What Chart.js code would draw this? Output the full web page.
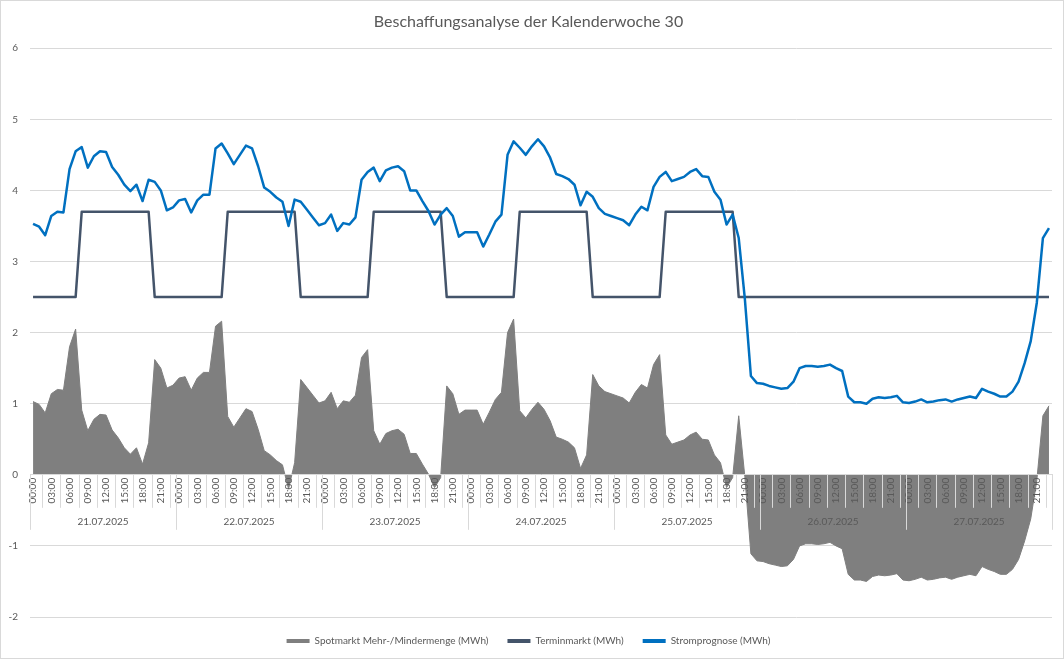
<!DOCTYPE html>
<html lang="de">
<head>
<meta charset="utf-8">
<title>Beschaffungsanalyse KW 30</title>
<script src="https://cdn.jsdelivr.net/npm/chart.js@4.4.1/dist/chart.umd.min.js"></script>
<style>
  html, body { margin: 0; padding: 0; background: #fff; }
  canvas { display: block; }
</style>
</head>
<body>
<canvas id="cvs_beschaffung" width="1064" height="659"></canvas>
<script>
// Beschaffungsanalyse KW 30 - stündliche Werte (MWh)

const tage = ["21.07.2025", "22.07.2025", "23.07.2025", "24.07.2025", "25.07.2025", "26.07.2025", "27.07.2025"];
const stunden = ["00:00", "01:00", "02:00", "03:00", "04:00", "05:00", "06:00", "07:00", "08:00", "09:00", "10:00", "11:00",
  "12:00", "13:00", "14:00", "15:00", "16:00", "17:00", "18:00", "19:00", "20:00", "21:00", "22:00", "23:00"];

const spotmarkt = [
  1.03, 0.99, 0.87, 1.14, 1.20, 1.19, 1.80, 2.05, 0.91, 0.62, 0.78, 0.85, 0.84, 0.63, 0.52, 0.38, 0.29, 0.38, 0.15, 0.45, 1.62, 1.50, 1.22, 1.26,
  1.36, 1.38, 1.19, 1.36, 1.44, 1.44, 2.09, 2.16, 0.82, 0.67, 0.80, 0.93, 0.89, 0.64, 0.34, 0.28, 0.20, 0.14, -0.20, 0.17, 1.34, 1.23, 1.12, 1.01,
  1.04, 1.16, 0.93, 1.04, 1.02, 1.12, 1.65, 1.76, 0.62, 0.43, 0.58, 0.62, 0.64, 0.57, 0.30, 0.30, 0.15, 0.01, -0.18, -0.04, 1.25, 1.14, 0.85, 0.91,
  0.91, 0.91, 0.71, 0.88, 1.06, 1.16, 2.00, 2.19, 0.90, 0.80, 0.92, 1.02, 0.92, 0.76, 0.53, 0.50, 0.46, 0.38, 0.09, 0.28, 1.41, 1.25, 1.17, 1.14,
  1.11, 1.08, 1.01, 1.16, 1.27, 1.22, 1.55, 1.69, 0.56, 0.43, 0.46, 0.49, 0.56, 0.60, 0.50, 0.49, 0.28, 0.17, -0.18, -0.04, 0.83, -0.02, -1.11, -1.21,
  -1.22, -1.25, -1.27, -1.29, -1.28, -1.19, -1.00, -0.97, -0.97, -0.98, -0.97, -0.95, -1.00, -1.04, -1.40, -1.48, -1.48, -1.50, -1.43, -1.41, -1.42, -1.41, -1.39, -1.48,
  -1.49, -1.47, -1.44, -1.48, -1.47, -1.45, -1.44, -1.47, -1.44, -1.42, -1.40, -1.42, -1.29, -1.33, -1.36, -1.40, -1.40, -1.33, -1.19, -0.93, -0.62, -0.08, 0.83, 0.97
];

const terminmarkt = [
  2.5, 2.5, 2.5, 2.5, 2.5, 2.5, 2.5, 2.5, 3.7, 3.7, 3.7, 3.7, 3.7, 3.7, 3.7, 3.7, 3.7, 3.7, 3.7, 3.7, 2.5, 2.5, 2.5, 2.5,
  2.5, 2.5, 2.5, 2.5, 2.5, 2.5, 2.5, 2.5, 3.7, 3.7, 3.7, 3.7, 3.7, 3.7, 3.7, 3.7, 3.7, 3.7, 3.7, 3.7, 2.5, 2.5, 2.5, 2.5,
  2.5, 2.5, 2.5, 2.5, 2.5, 2.5, 2.5, 2.5, 3.7, 3.7, 3.7, 3.7, 3.7, 3.7, 3.7, 3.7, 3.7, 3.7, 3.7, 3.7, 2.5, 2.5, 2.5, 2.5,
  2.5, 2.5, 2.5, 2.5, 2.5, 2.5, 2.5, 2.5, 3.7, 3.7, 3.7, 3.7, 3.7, 3.7, 3.7, 3.7, 3.7, 3.7, 3.7, 3.7, 2.5, 2.5, 2.5, 2.5,
  2.5, 2.5, 2.5, 2.5, 2.5, 2.5, 2.5, 2.5, 3.7, 3.7, 3.7, 3.7, 3.7, 3.7, 3.7, 3.7, 3.7, 3.7, 3.7, 3.7, 2.5, 2.5, 2.5, 2.5,
  2.5, 2.5, 2.5, 2.5, 2.5, 2.5, 2.5, 2.5, 2.5, 2.5, 2.5, 2.5, 2.5, 2.5, 2.5, 2.5, 2.5, 2.5, 2.5, 2.5, 2.5, 2.5, 2.5, 2.5,
  2.5, 2.5, 2.5, 2.5, 2.5, 2.5, 2.5, 2.5, 2.5, 2.5, 2.5, 2.5, 2.5, 2.5, 2.5, 2.5, 2.5, 2.5, 2.5, 2.5, 2.5, 2.5, 2.5, 2.5
];

const stromprognose = [
  3.53, 3.49, 3.37, 3.64, 3.70, 3.69, 4.30, 4.55, 4.61, 4.32, 4.48, 4.55, 4.54, 4.33, 4.22, 4.08, 3.99, 4.08, 3.85, 4.15, 4.12, 4.00, 3.72, 3.76,
  3.86, 3.88, 3.69, 3.86, 3.94, 3.94, 4.59, 4.66, 4.52, 4.37, 4.50, 4.63, 4.59, 4.34, 4.04, 3.98, 3.90, 3.84, 3.50, 3.87, 3.84, 3.73, 3.62, 3.51,
  3.54, 3.66, 3.43, 3.54, 3.52, 3.62, 4.15, 4.26, 4.32, 4.13, 4.28, 4.32, 4.34, 4.27, 4.00, 4.00, 3.85, 3.71, 3.52, 3.66, 3.75, 3.64, 3.35, 3.41,
  3.41, 3.41, 3.21, 3.38, 3.56, 3.66, 4.50, 4.69, 4.60, 4.50, 4.62, 4.72, 4.62, 4.46, 4.23, 4.20, 4.16, 4.08, 3.79, 3.98, 3.91, 3.75, 3.67, 3.64,
  3.61, 3.58, 3.51, 3.66, 3.77, 3.72, 4.05, 4.19, 4.26, 4.13, 4.16, 4.19, 4.26, 4.30, 4.20, 4.19, 3.98, 3.87, 3.52, 3.66, 3.33, 2.48, 1.39, 1.29,
  1.28, 1.25, 1.23, 1.21, 1.22, 1.31, 1.50, 1.53, 1.53, 1.52, 1.53, 1.55, 1.50, 1.46, 1.10, 1.02, 1.02, 1.00, 1.07, 1.09, 1.08, 1.09, 1.11, 1.02,
  1.01, 1.03, 1.06, 1.02, 1.03, 1.05, 1.06, 1.03, 1.06, 1.08, 1.10, 1.08, 1.21, 1.17, 1.14, 1.10, 1.10, 1.17, 1.31, 1.57, 1.88, 2.42, 3.33, 3.47
];

const yTicks = [-2, -1, 0, 1, 2, 3, 4, 5, 6];

// Kategorien: jede Stunde jedes Tages
var kategorien = [];
for (let d = 0; d < tage.length; d++) {
  for (let h = 0; h < stunden.length; h++) {
    kategorien.push(stunden[h]);
  }
}

const GRAU_TEXT = "#595959";
const GRAU_LINIE = "#d9d9d9";

Chart.defaults.font.family = "Lato, 'Open Sans', sans-serif";
Chart.defaults.color = GRAU_TEXT;

// Hintergrund, Rahmen, Teilstriche und Datumszeile unter der Achse
const achsenDeko = {
  id: "achsenDeko",
  beforeDraw(chart) {
    const ctx = chart.ctx;
    ctx.save();
    ctx.fillStyle = "#ffffff";
    ctx.fillRect(0, 0, chart.width, chart.height);
    ctx.strokeStyle = GRAU_LINIE;
    ctx.lineWidth = 1;
    ctx.strokeRect(0.5, 0.5, chart.width - 1, chart.height - 1);
    ctx.restore();
  },
  afterDraw(chart) {
    const ctx = chart.ctx;
    const x = chart.scales.x;
    const y0 = chart.scales.y.getPixelForValue(0);
    const breite = x.getPixelForValue(1) - x.getPixelForValue(0);
    const grenze = (k) => x.getPixelForValue(0) - breite / 2 + k * breite;

    ctx.save();
    ctx.strokeStyle = GRAU_LINIE;
    ctx.lineWidth = 1;
    ctx.beginPath();
    for (let d = 0; d < tage.length; d++) {
      for (let m = 0; m < 8; m++) {
        let px = Math.round(grenze(d * 24 + 3 * m + 2)) + 0.5;
        ctx.moveTo(px, y0);
        ctx.lineTo(px, y0 + 33);
      }
    }
    for (let d = 0; d <= tage.length; d++) {
      let px = Math.round(grenze(d * 24)) + 0.5;
      ctx.moveTo(px, y0);
      ctx.lineTo(px, y0 + 55);
    }
    ctx.stroke();

    ctx.fillStyle = GRAU_TEXT;
    ctx.font = "10px Lato, 'Open Sans', sans-serif";
    ctx.textAlign = "center";
    ctx.textBaseline = "middle";
    for (let d = 0; d < tage.length; d++) {
      let mitte = (grenze(d * 24) + grenze(d * 24 + 24)) / 2;
      ctx.fillText(tage[d], mitte, y0 + 47);
    }
    ctx.restore();
  }
};

new Chart(document.getElementById("cvs_beschaffung"), {
  type: "line",
  data: {
    labels: kategorien,
    datasets: [
      {
        label: "Spotmarkt Mehr-/Mindermenge (MWh)",
        data: spotmarkt,
        fill: "origin",
        backgroundColor: "#7f7f7f",
        borderColor: "#7f7f7f",
        borderWidth: 1,
        pointRadius: 0,
        tension: 0,
        order: 3,
      },
      {
        label: "Terminmarkt (MWh)",
        data: terminmarkt,
        fill: false,
        backgroundColor: "#44546a",
        borderColor: "#44546a",
        borderWidth: 2.5,
        borderJoinStyle: "round",
        pointRadius: 0,
        tension: 0,
        order: 2,
      },
      {
        label: "Stromprognose (MWh)",
        data: stromprognose,
        fill: false,
        backgroundColor: "#0070c0",
        borderColor: "#0070c0",
        borderWidth: 2.5,
        borderJoinStyle: "round",
        pointRadius: 0,
        tension: 0,
        order: 1,
      },
    ],
  },
  options: {
    responsive: false,
    animation: false,
    layout: { padding: { left: 0, right: 7, top: 0, bottom: 3 } },
    plugins: {
      title: {
        display: true,
        text: "Beschaffungsanalyse der Kalenderwoche 30",
        color: GRAU_TEXT,
        font: { size: 16, weight: "normal" },
        padding: { top: 12, bottom: 17 },
      },
      legend: {
        position: "bottom",
        labels: {
          color: GRAU_TEXT,
          font: { size: 10 },
          boxWidth: 23,
          boxHeight: 4,
          padding: 19,
          sort: (a, b) => a.datasetIndex - b.datasetIndex,
          generateLabels: function (chart) {
            const items = Chart.defaults.plugins.legend.labels.generateLabels(chart);
            items.forEach((it) => {
              it.lineWidth = 0;
              it.strokeStyle = it.fillStyle;
            });
            return items;
          },
        },
      },
      tooltip: { enabled: false },
    },
    scales: {
      x: {
        type: "category",
        offset: true,
        position: { y: 0 },
        grid: { display: false, drawTicks: false },
        border: { display: true, color: GRAU_LINIE, width: 1, z: 1 },
        ticks: {
          z: 1,
          autoSkip: false,
          maxRotation: 90,
          minRotation: 90,
          padding: 3,
          color: GRAU_TEXT,
          font: { size: 10 },
          callback: function (wert, index) {
            return index % 3 === 0 ? kategorien[index] : "";
          },
        },
      },
      y: {
        min: yTicks[0],
        max: yTicks[yTicks.length - 1],
        afterFit: function (scale) {
          scale.width = 30;
        },
        afterBuildTicks: function (scale) {
          scale.ticks = yTicks.map((v) => ({ value: v }));
        },
        grid: { color: GRAU_LINIE, drawTicks: false },
        border: { display: false },
        ticks: {
          padding: 12,
          color: GRAU_TEXT,
          font: { size: 10 },
        },
      },
    },
  },
  plugins: [achsenDeko],
});
</script>
</body>
</html>
